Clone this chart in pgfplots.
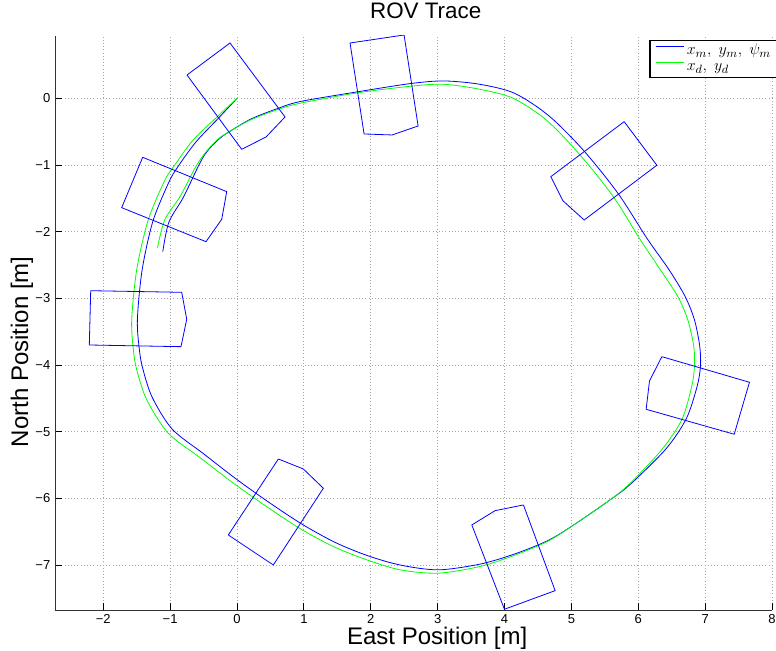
\documentclass[border=0pt]{standalone}
\usepackage{fontspec}
\setmainfont{Liberation Sans}
\usepackage{pgfplots}
\pgfplotsset{compat=1.18}
\definecolor{mgreen}{rgb}{0,1,0}
\definecolor{mblue}{rgb}{0,0,1}
\begin{document}
\begin{tikzpicture}
\begin{axis}[
  scale only axis, width=537.75pt, height=430.5pt,
  xmin=-2.722, xmax=8, ymin=-7.672, ymax=0.934,
  axis x line*=bottom, axis y line*=left,
  axis line style={black!80, line width=0.7pt},
  xtick={-2,-1,0,1,2,3,4,5,6,7,8},
  xticklabels={−2,−1,0,1,2,3,4,5,6,7,8},
  ytick={-7,-6,-5,-4,-3,-2,-1,0},
  yticklabels={−7,−6,−5,−4,−3,−2,−1,0},
  tick align=inside, major tick length=5pt,
  tick style={black, line width=0.7pt},
  tick label style={font=\fontsize{9.75}{10}\selectfont},
  grid=major,
  major grid style={gray!70, dotted, line width=0.6pt},
  every axis title shift=0pt,
  title={ROV Trace},
  title style={font=\fontsize{16.8}{16.8}\selectfont, at={(axis description cs:0.517,1)}, anchor=base, inner sep=0pt, yshift=12.75pt},
  xlabel={East Position [m]},
  xlabel style={font=\fontsize{18}{18}\selectfont, at={(axis description cs:0.533,-0.049)}, anchor=center, inner sep=0pt},
  ylabel={North Position [m]},
  ylabel style={font=\fontsize{18}{18}\selectfont, at={(axis description cs:-0.046,0.45)}, anchor=center, inner sep=0pt},
  legend style={at={(axis description cs:1.007,0.993)}, anchor=north east, draw=black, line width=1pt, fill=white,
     font=\fontsize{13}{13}\selectfont, inner xsep=4pt, inner ysep=2.5pt, row sep=1.5pt,
     nodes={inner sep=0pt, text height=8pt, text depth=2.5pt},
     /tikz/every odd column/.append style={column sep=2pt}},
  legend cell align=left,
  legend image code/.code={\draw[#1, line width=0.7pt] (0pt,3.5pt) -- (21pt,3.5pt);},
]
% measured trajectory
\addplot[mblue, line width=0.6pt, smooth] coordinates {
(0,0) (-0.27,-0.29) (-0.61,-0.65) (-0.88,-1.02) (-1.02,-1.26) (-1.26,-1.85)
(-1.42,-2.58) (-1.49,-3.32) (-1.46,-3.77) (-1.41,-4.05) (-1.27,-4.48)
(-0.97,-4.96) (-0.50,-5.33) (-0.01,-5.71) (0.48,-6.06) (0.98,-6.39)
(1.47,-6.66) (1.96,-6.86) (2.45,-7.00) (3.01,-7.07) (3.63,-6.985)
(4.13,-6.84) (4.63,-6.64) (5.0,-6.42) (5.58,-6.02) (5.90,-5.77)
(6.42,-5.25) (6.72,-4.80) (6.88,-4.32) (6.93,-4.02) (6.92,-3.72)
(6.84,-3.32) (6.70,-2.97) (6.46,-2.57) (6.13,-2.10) (5.70,-1.43)
(5.18,-0.78) (4.66,-0.26) (4.15,0.075) (3.63,0.21) (3.09,0.26)
(2.59,0.22) (1.79,0.095) (0.94,-0.05) (0.59,-0.16) (0.21,-0.31)
(-0.13,-0.51) (-0.28,-0.62) (-0.45,-0.80) (-0.57,-1.0) (-0.80,-1.48) (-1.02,-1.86)
(-1.11,-2.30)
};
\addlegendentry{$x_m,\;y_m,\;\psi_m$}
% desired trajectory
\addplot[mgreen, line width=0.6pt, smooth] coordinates {
(0,0) (-0.30,-0.28) (-0.66,-0.63) (-0.93,-1.0) (-1.08,-1.23) (-1.33,-1.83)
(-1.50,-2.57) (-1.575,-3.32) (-1.55,-3.77) (-1.50,-4.07) (-1.35,-4.52)
(-1.03,-5.02) (-0.55,-5.39) (-0.055,-5.77) (0.44,-6.12) (0.94,-6.45)
(1.44,-6.72) (1.94,-6.92) (2.44,-7.07) (3.01,-7.12) (3.63,-7.02)
(4.13,-6.86) (4.63,-6.65) (5.0,-6.42) (5.58,-6.02) (5.88,-5.77)
(6.35,-5.27) (6.65,-4.82) (6.80,-4.32) (6.84,-4.02) (6.83,-3.72)
(6.74,-3.32) (6.59,-2.97) (6.33,-2.57) (6.03,-2.12) (5.63,-1.48)
(5.13,-0.85) (4.63,-0.33) (4.13,0.0) (3.63,0.135) (3.09,0.21)
(2.59,0.18) (1.79,0.08) (0.94,-0.075) (0.59,-0.175) (0.19,-0.33)
(-0.15,-0.52) (-0.30,-0.625) (-0.47,-0.81) (-0.62,-1.03) (-0.85,-1.47) (-1.08,-1.82)
(-1.19,-2.24)
};
\addlegendentry{$x_d,\;y_d$}
% ROV outlines
\addplot[mblue, line width=0.6pt, forget plot] coordinates {
(-0.748,0.349) (-0.105,0.829) (0.718,-0.280) (0.434,-0.580) (0.070,-0.765) (-0.748,0.349)};
\addplot[mblue, line width=0.6pt, forget plot] coordinates {
(1.690,0.829) (2.498,0.949) (2.708,-0.415) (2.319,-0.550) (1.900,-0.535) (1.690,0.829)};
\addplot[mblue, line width=0.6pt, forget plot] coordinates {
(5.789,-0.351) (6.278,-1.004) (5.191,-1.825) (4.872,-1.535) (4.693,-1.175) (5.789,-0.351)};
\addplot[mblue, line width=0.6pt, forget plot] coordinates {
(6.353,-3.874) (7.663,-4.258) (7.435,-5.037) (6.118,-4.663) (6.168,-4.238) (6.353,-3.874)};
\addplot[mblue, line width=0.6pt, forget plot] coordinates {
(4.283,-6.097) (4.757,-7.382) (3.999,-7.661) (3.511,-6.397) (3.859,-6.183) (4.283,-6.097)};
\addplot[mblue, line width=0.6pt, forget plot] coordinates {
(0.618,-5.408) (0.992,-5.558) (1.291,-5.847) (0.543,-6.997) (-0.130,-6.547) (0.618,-5.408)};
\addplot[mblue, line width=0.6pt, forget plot] coordinates {
(-2.188,-2.885) (-0.827,-2.909) (-0.752,-3.313) (-0.838,-3.724) (-2.209,-3.699) (-2.188,-2.885)};
\addplot[mblue, line width=0.6pt, forget plot] coordinates {
(-1.411,-0.885) (-0.154,-1.400) (-0.229,-1.814) (-0.464,-2.150) (-1.725,-1.640) (-1.411,-0.885)};
\coordinate (ll) at (rel axis cs:0,0);
\coordinate (ur) at (rel axis cs:1,1);
\end{axis}
\pgfresetboundingbox
\path ([xshift=-41.25pt,yshift=-30.75pt]ll) rectangle ([xshift=3pt,yshift=27pt]ur);
\end{tikzpicture}
\end{document}
